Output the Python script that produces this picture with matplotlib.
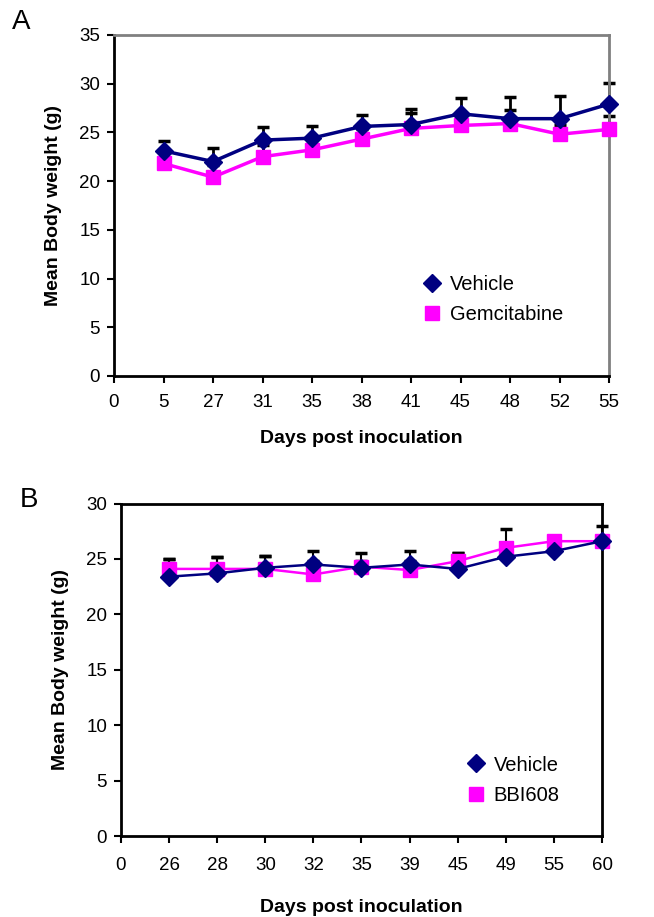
import numpy as np
import matplotlib.pyplot as plt
from matplotlib.lines import Line2D

plt.rc('font', family=['Liberation Sans', 'DejaVu Sans'], size=13.5)

# panel A
days_a = ['0', '5', '27', '31', '35', '38', '41', '45', '48', '52', '55']
veh_a = [23.1, 22.0, 24.2, 24.4, 25.6, 25.8, 26.9, 26.4, 26.4, 27.9]
veh_a_err = [1.0, 1.4, 1.3, 1.2, 1.2, 1.6, 1.6, 2.2, 2.3, 2.2]
gem_a = [21.8, 20.4, 22.5, 23.2, 24.3, 25.4, 25.7, 25.9, 24.8, 25.3]
gem_a_err = [1.2, 1.2, 1.2, 1.0, 1.0, 1.6, 1.0, 1.4, 1.0, 1.4]

# panel B
days_b = ['0', '26', '28', '30', '32', '35', '39', '45', '49', '55', '60']
veh_b = [23.4, 23.7, 24.2, 24.5, 24.2, 24.5, 24.1, 25.2, 25.7, 26.6]
veh_b_err = [1.6, 1.5, 1.1, 1.2, 1.3, 1.2, 1.4, 1.1, 1.3, 1.4]
bbi_b = [24.1, 24.1, 24.1, 23.6, 24.3, 24.0, 24.8, 26.0, 26.6, 26.6]
bbi_b_err = [0.9, 1.1, 1.2, 1.2, 0.5, 0.8, 0.7, 1.7, 0.4, 0.5]

NAVY = '#000080'
MAGENTA = '#FF00FF'


def draw_panel(ax, labels, y1, e1, y2, e2, name2, ymax, lw, elw, xpad, xlpad):
    x = np.arange(1, len(labels))
    for y, e in [(y1, e1), (y2, e2)]:
        ax.errorbar(x, y, yerr=[np.zeros(len(e)), e], fmt='none', ecolor='black',
                    elinewidth=elw, capsize=4.5, capthick=2.5, zorder=2, clip_on=False)
    ax.plot(x, y1, color=NAVY, lw=lw, marker='D', ms=9.5, zorder=4, clip_on=False)
    ax.plot(x, y2, color=MAGENTA, lw=lw, marker='s', ms=9.5, zorder=3, clip_on=False)
    ax.set_xlim(0, len(labels) - 1)
    ax.set_xticks(np.arange(len(labels)))
    ax.set_xticklabels(labels)
    ax.set_ylim(0, ymax)
    ax.set_yticks(np.arange(0, ymax + 1, 5))
    ax.tick_params(direction='out', length=5, width=1.5, pad=5)
    ax.tick_params(axis='x', pad=xpad)
    ax.set_xlabel('Days post inoculation', fontweight='bold', fontsize=14, labelpad=xlpad)
    ax.set_ylabel('Mean Body weight (g)', fontweight='bold', fontsize=14, labelpad=12.5)
    for s in ax.spines.values():
        s.set_linewidth(2)
    handles = [Line2D([], [], color=NAVY, marker='D', ms=9, ls='none'),
               Line2D([], [], color=MAGENTA, marker='s', ms=10, ls='none')]
    return handles, ['Vehicle', name2]


fig = plt.figure(figsize=(6.54, 9.17), dpi=100)
ax1 = fig.add_axes([0.1743, 0.590, 0.757, 0.372])
ax2 = fig.add_axes([0.185, 0.0883, 0.7355, 0.3626])

h, l = draw_panel(ax1, days_a, veh_a, veh_a_err, gem_a, gem_a_err, 'Gemcitabine', 35, 2.5, 2, 8, 14)
ax1.legend(h, l, loc='lower left', bbox_to_anchor=(0.59, 0.10), frameon=False,
           handlelength=0.8, handletextpad=0.5, labelspacing=0.55, fontsize=14.5)
h, l = draw_panel(ax2, days_b, veh_b, veh_b_err, bbi_b, bbi_b_err, 'BBI608', 30, 1.8, 1.5, 10, 18)
ax2.legend(h, l, loc='lower left', bbox_to_anchor=(0.683, 0.04), frameon=False,
           handlelength=0.8, handletextpad=0.5, labelspacing=0.55, fontsize=14.5)

ax1.spines['top'].set_color('#808080')
ax1.spines['right'].set_color('#808080')

fig.text(12 / 654, 1 - 22 / 917, 'A', fontsize=20, va='center')
fig.text(20 / 654, 1 - 500 / 917, 'B', fontsize=20, va='center')

fig.savefig('out.png', dpi=100)
